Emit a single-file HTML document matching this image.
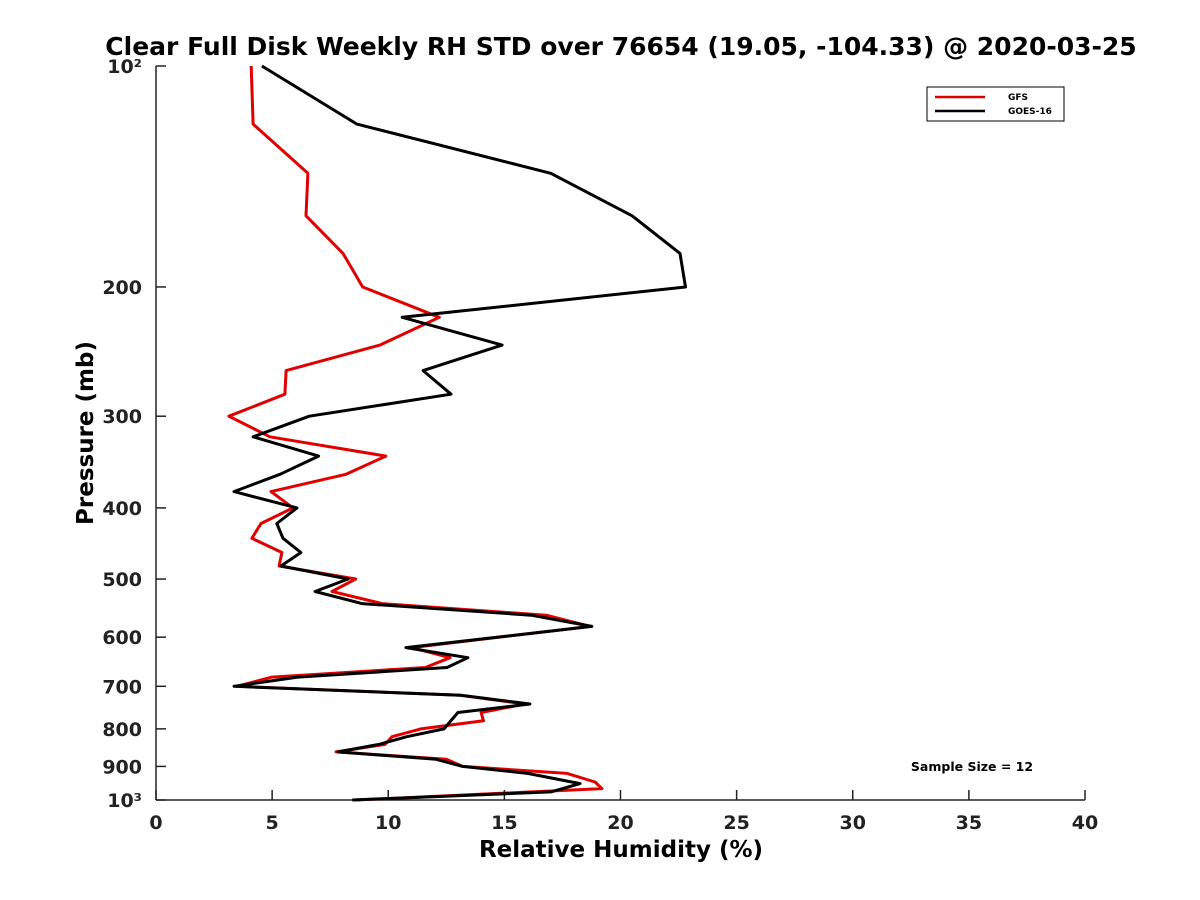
<!DOCTYPE html>
<html><head><meta charset="utf-8"><style>
body{margin:0;background:#fff}
svg{display:block;font-family:"DejaVu Sans","Liberation Sans",sans-serif}
</style></head><body>
<svg id="chart" width="1200" height="900">
<rect width="1200" height="900" fill="#fff"/>
<text x="621" y="55" text-anchor="middle" font-size="25" font-weight="bold">Clear Full Disk Weekly RH STD over 76654 (19.05, -104.33) @ 2020-03-25</text>
<g id="axes"></g>
<g id="series"></g>
<g>
<rect x="927" y="87" width="137" height="34" fill="#fff" stroke="#000" stroke-width="1"/>
<line x1="935" y1="97" x2="985" y2="97" stroke="#e00000" stroke-width="2.5"/>
<text x="1008" y="100" font-size="9" font-weight="bold">GFS</text>
<line x1="935" y1="111" x2="985" y2="111" stroke="#000" stroke-width="2.5"/>
<text x="1008" y="114" font-size="9" font-weight="bold">GOES-16</text>
</g>
<text x="972" y="771" text-anchor="middle" font-size="12.5" font-weight="bold">Sample Size = 12</text>
<text x="621" y="857" text-anchor="middle" font-size="23" font-weight="bold">Relative Humidity (%)</text>
<text transform="translate(93,433) rotate(-90)" text-anchor="middle" font-size="23" font-weight="bold">Pressure (mb)</text>
</svg>
<script>
const xTicks=[0,5,10,15,20,25,30,35,40];
const yTicks=[100,200,300,400,500,600,700,800,900,1000];
const yTickLabels=["10²","200","300","400","500","600","700","800","900","10³"];
const goesP=[100,120,140,160,180,200,220,240,260,280,300,320,340,360,380,400,420,440,460,480,500,520,540,560,580,620,640,660,680,700,720,740,760,800,820,840,860,880,900,920,950,975,1000];
const goesRH=[4.56,8.65,17.0,20.5,22.56,22.8,10.6,14.9,11.5,12.7,6.6,4.18,7.0,5.34,3.36,6.07,5.2,5.47,6.24,5.38,8.27,6.85,8.87,16.15,18.77,10.76,13.43,12.53,6.11,3.36,13.13,16.1,13.0,12.4,10.8,9.6,7.84,12.06,13.2,16.0,18.26,17.0,8.45];
const gfsP=[100,120,140,160,180,200,220,240,260,280,300,320,340,360,380,400,420,440,460,480,500,520,540,560,580,620,640,660,680,700,720,740,760,780,800,820,840,860,880,900,920,945,965,1000];
const gfsRH=[4.1,4.18,6.54,6.46,8.05,8.9,12.2,9.64,5.6,5.55,3.14,4.9,9.9,8.18,4.95,5.9,4.52,4.13,5.42,5.3,8.6,7.58,9.73,16.8,18.7,11.0,12.66,11.6,5.0,3.49,13.1,15.9,14.0,14.1,11.4,10.16,9.86,7.75,12.5,13.2,17.7,18.9,19.2,8.6];
const X0=156,X1=1085,Y0=66,Y1=800;
const xs=v=>X0+(v-0)/(40-0)*(X1-X0);
const ys=p=>Y0+(Math.log10(p)-2)*(Y1-Y0);
const NS="http://www.w3.org/2000/svg";
const axes=document.getElementById('axes'),ser=document.getElementById('series');
function mk(tag,attrs,parent){const e=document.createElementNS(NS,tag);for(const k in attrs)e.setAttribute(k,attrs[k]);parent.appendChild(e);return e;}
const xa=mk('line',{x1:X0,y1:Y1,x2:X1,y2:Y1,stroke:'#222','stroke-width':1.5},axes);


const ya=mk('line',{x1:X0,y1:Y0,x2:X0,y2:Y1,stroke:'#222','stroke-width':1.5},axes);


xTicks.forEach(v=>{
 const l=mk('line',{x1:xs(v),y1:Y1,x2:xs(v),y2:Y1-10,stroke:'#222','stroke-width':1.5},axes);
 
 
 const t=mk('text',{x:xs(v),y:Y1+29,'text-anchor':'middle','font-size':19,'font-weight':'bold',fill:'#222'},axes);
 t.textContent=v;
 
 
});
yTicks.forEach((p,i)=>{
 const l=mk('line',{x1:X0,y1:ys(p),x2:X0+10,y2:ys(p),stroke:'#222','stroke-width':1.5},axes);
 
 
 const t=mk('text',{x:X0-14,y:ys(p)+7,'text-anchor':'end','font-size':19,'font-weight':'bold',fill:'#222'},axes);
 t.textContent=yTickLabels[i];
 
 
});
function line(P,V,color,name){
 const pts=P.map((p,i)=>xs(V[i]).toFixed(1)+','+ys(p).toFixed(1)).join(' ');
 const e=mk('polyline',{points:pts,fill:'none',stroke:color,'stroke-width':3,'stroke-linejoin':'round'},ser);
 
 
}
line(gfsP,gfsRH,'#e00000','gfs-line');
line(goesP,goesRH,'#000','goes16-line');
</script>
</body></html>
